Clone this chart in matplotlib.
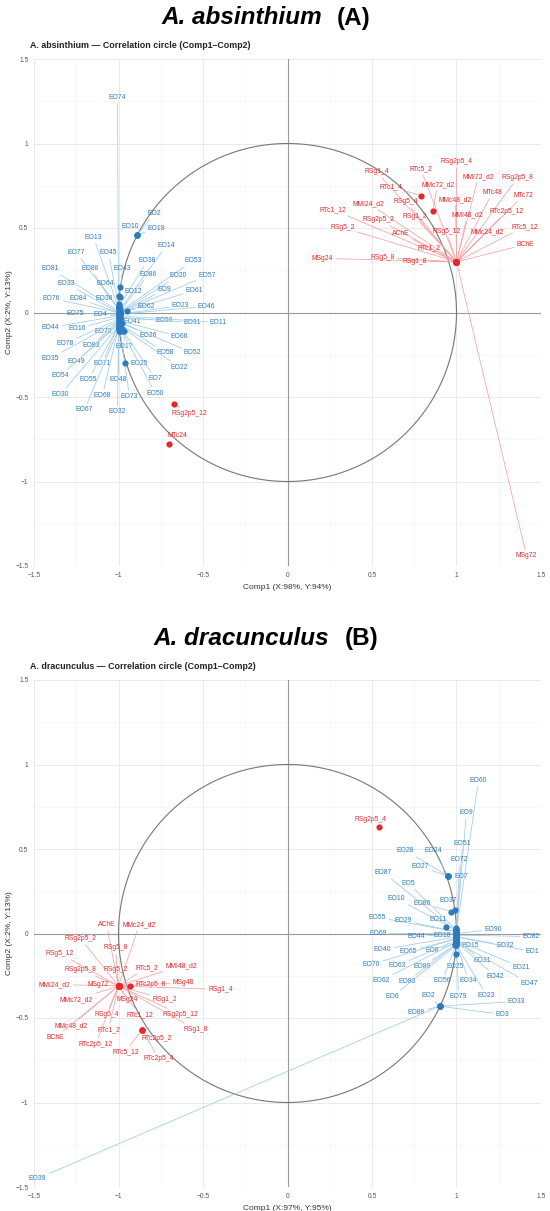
import numpy as np
import matplotlib
matplotlib.use("Agg")
import matplotlib.pyplot as plt

plt.rcParams["font.family"] = ["Liberation Sans", "DejaVu Sans"]

# ---------------- A. absinthium ----------------
abs_eo_names = ["EO74", "EO2", "EO19", "EO10", "EO14", "EO13", "EO77", "EO45", "EO38", "EO53",
                "EO81", "EO88", "EO43", "EO86", "EO20", "EO57", "EO33", "EO64", "EO12", "EO9",
                "EO61", "EO76", "EO84", "EO36", "EO62", "EO23", "EO46", "EO75", "EO4", "EO41",
                "EO59", "EO91", "EO11", "EO44", "EO16", "EO72", "EO26", "EO66", "EO78", "EO83",
                "EO17", "EO58", "EO52", "EO35", "EO49", "EO71", "EO25", "EO22", "EO54", "EO55",
                "EO48", "EO7", "EO30", "EO68", "EO73", "EO50", "EO67", "EO32"]
abs_eo_x = [-1.00, -0.89, -0.89, -0.89, -0.99, -1.00, -1.00, -1.00, -1.00, -1.00,
            -1.00, -1.00, -1.00, -0.99, -0.99, -0.99, -1.00, -0.99, -0.99, -0.99,
            -0.99, -1.00, -1.00, -1.00, -0.95, -0.99, -0.99, -1.00, -1.00, -0.99,
            -0.99, -0.99, -0.99, -1.00, -1.00, -0.99, -0.98, -0.99, -1.00, -1.00,
            -0.97, -0.99, -0.99, -1.00, -1.00, -1.00, -0.96, -0.99, -1.00, -1.00,
            -1.00, -0.98, -1.00, -1.00, -0.99, -0.98, -1.00, -1.00]
abs_eo_y = [0.05, 0.46, 0.46, 0.46, 0.02, 0.03, 0.02, 0.04, 0.03, 0.00,
            0.01, 0.02, 0.03, 0.01, 0.00, 0.00, 0.00, 0.15, 0.09, 0.00,
            0.00, 0.00, 0.00, 0.10, 0.01, -0.01, -0.01, -0.01, -0.02, -0.04,
            -0.03, -0.03, -0.02, -0.02, -0.03, -0.11, -0.06, -0.05, -0.04, -0.05,
            -0.11, -0.07, -0.06, -0.05, -0.06, -0.07, -0.30, -0.08, -0.07, -0.08,
            -0.09, -0.10, -0.08, -0.09, -0.11, -0.11, -0.10, -0.11]

abs_bio_names = ["RSg2p5_4", "RSg1_4", "RTc5_2", "MMI72_d2", "RSg2p5_8", "RTc1_4", "MMc72_d2",
                 "MTc48", "MTc72", "MMc48_d2", "RSg5_4", "MMI24_d2", "RTc1_12", "RSg1_2",
                 "MMI48_d2", "RTc2p5_12", "RSg2p5_2", "RSg5_2", "AChE", "RSg5_12", "MMc24_d2",
                 "RTc5_12", "RTc1_2", "BChE", "MSg24", "RSg5_8", "RSg1_8", "MSg72",
                 "RSg2p5_12", "MTc24"]
abs_bio_x = [1.00, 1.00, 1.00, 1.00, 1.00, 0.79, 0.86,
             1.00, 1.00, 1.00, 1.00, 1.00, 1.00, 1.00,
             1.00, 1.00, 1.00, 1.00, 1.00, 1.00, 1.00,
             1.00, 1.00, 1.00, 1.00, 1.00, 1.00, 1.00,
             -0.67, -0.70]
abs_bio_y = [0.30, 0.30, 0.30, 0.30, 0.30, 0.69, 0.60,
             0.30, 0.30, 0.30, 0.30, 0.30, 0.30, 0.30,
             0.30, 0.30, 0.30, 0.30, 0.30, 0.30, 0.30,
             0.30, 0.30, 0.30, 0.30, 0.30, 0.30, 0.30,
             -0.54, -0.78]

# label placement (repelled text positions)
abs_eo_lab = [(-1.006, 1.272), (-0.787, 0.586), (-0.775, 0.497), (-0.929, 0.509), (-0.716, 0.396),
              (-1.148, 0.444), (-1.249, 0.355), (-1.059, 0.355), (-0.828, 0.308), (-0.556, 0.308),
              (-1.402, 0.260), (-1.166, 0.260), (-0.976, 0.260), (-0.822, 0.225), (-0.645, 0.219),
              (-0.473, 0.219), (-1.308, 0.172), (-1.077, 0.172), (-0.911, 0.124), (-0.728, 0.136),
              (-0.550, 0.130), (-1.396, 0.083), (-1.237, 0.083), (-1.083, 0.083), (-0.834, 0.036),
              (-0.633, 0.041), (-0.479, 0.036), (-1.254, -0.006), (-1.107, -0.012), (-0.917, -0.053),
              (-0.728, -0.047), (-0.562, -0.059), (-0.408, -0.059), (-1.402, -0.089), (-1.243, -0.095),
              (-1.089, -0.112), (-0.822, -0.136), (-0.639, -0.142), (-1.314, -0.183), (-1.160, -0.195),
              (-0.964, -0.201), (-0.722, -0.237), (-0.562, -0.237), (-1.402, -0.272), (-1.249, -0.290),
              (-1.095, -0.302), (-0.876, -0.302), (-0.639, -0.325), (-1.343, -0.373), (-1.178, -0.396),
              (-1.000, -0.396), (-0.781, -0.391), (-1.343, -0.485), (-1.095, -0.491), (-0.935, -0.497),
              (-0.781, -0.479), (-1.201, -0.574), (-1.006, -0.586)]
abs_bio_lab = [(1.000, 0.893), (0.527, 0.834), (0.787, 0.852), (1.130, 0.805), (1.361, 0.799),
               (0.615, 0.746), (0.888, 0.757), (1.213, 0.710), (1.396, 0.692), (0.994, 0.669),
               (0.698, 0.657), (0.479, 0.645), (0.266, 0.609), (0.751, 0.568), (1.065, 0.580),
               (1.296, 0.598), (0.538, 0.550), (0.325, 0.503), (0.669, 0.467), (0.941, 0.479),
               (1.183, 0.479), (1.402, 0.509), (0.834, 0.385), (1.408, 0.402), (0.207, 0.320),
               (0.562, 0.325), (0.751, 0.302), (1.414, -1.438), (-0.580, -0.598), (-0.651, -0.728)]

# ---------------- A. dracunculus ----------------
dra_eo_names = ["EO60", "EO9", "EO51", "EO28", "EO24", "EO72", "EO27", "EO87", "EO7", "EO5",
                "EO10", "EO86", "EO37", "EO55", "EO29", "EO11", "EO69", "EO44", "EO18", "EO90",
                "EO82", "EO15", "EO32", "EO1", "EO40", "EO65", "EO8", "EO31", "EO21", "EO70",
                "EO63", "EO89", "EO25", "EO42", "EO47", "EO62", "EO80", "EO56", "EO34", "EO6",
                "EO2", "EO79", "EO23", "EO33", "EO88", "EO3", "EO39"]
dra_eo_x = [1.00, 1.00, 1.00, 0.95, 0.95, 1.00, 0.95, 1.00, 0.95, 1.00,
            1.00, 0.97, 0.99, 1.00, 1.00, 0.94, 1.00, 1.00, 1.00, 1.00,
            1.00, 1.00, 1.00, 1.00, 1.00, 1.00, 0.99, 1.00, 1.00, 1.00,
            1.00, 0.99, 1.00, 1.00, 1.00, 1.00, 1.00, 1.00, 1.00, 1.00,
            0.90, 1.00, 1.00, 0.90, 0.90, 0.90, 0.90]
dra_eo_y = [0.02, 0.02, 0.03, 0.34, 0.34, 0.02, 0.34, 0.01, 0.34, 0.02,
            0.02, 0.13, 0.14, 0.01, 0.01, 0.04, 0.00, 0.00, -0.01, 0.00,
            -0.01, -0.03, -0.02, -0.02, -0.02, -0.03, -0.06, -0.04, -0.04, -0.03,
            -0.04, -0.07, -0.12, -0.05, -0.05, -0.05, -0.06, -0.06, -0.06, -0.07,
            -0.43, -0.07, -0.07, -0.43, -0.43, -0.43, -0.43]

dra_bio_names = ["AChE", "MMc24_d2", "RSg2p5_2", "RSg5_8", "RSg5_12", "RTc5_2", "MMI48_d2",
                 "RSg2p5_8", "RSg5_2", "MSg48", "MMI24_d2", "MSg72", "RTc2p5_8", "RSg1_4",
                 "MMc72_d2", "MSg24", "RSg1_2", "RSg5_4", "RTc1_12", "RSg2p5_12", "MMc48_d2",
                 "RTc1_2", "RSg1_8", "BChE", "RTc2p5_2", "RTc2p5_12", "RTc5_12", "RTc2p5_4",
                 "RSg2p5_4"]
dra_bio_x = [-1.00, -1.00, -1.00, -1.00, -1.00, -1.00, -1.00,
             -1.00, -1.00, -1.00, -1.00, -1.00, -0.93, -1.00,
             -1.00, -1.00, -1.00, -1.00, -1.00, -1.00, -1.00,
             -1.00, -1.00, -1.00, -0.86, -1.00, -0.86, -0.86,
             0.54]
dra_bio_y = [-0.31, -0.31, -0.31, -0.31, -0.31, -0.31, -0.31,
             -0.31, -0.31, -0.31, -0.31, -0.31, -0.31, -0.31,
             -0.31, -0.31, -0.31, -0.31, -0.31, -0.31, -0.31,
             -0.31, -0.31, -0.31, -0.57, -0.31, -0.57, -0.57,
             0.63]

dra_eo_lab = [(1.130, 0.905), (1.059, 0.716), (1.036, 0.533), (0.698, 0.491), (0.864, 0.491),
              (1.018, 0.438), (0.787, 0.396), (0.568, 0.361), (1.030, 0.337), (0.716, 0.296),
              (0.645, 0.207), (0.799, 0.178), (0.953, 0.195), (0.533, 0.095), (0.686, 0.077),
              (0.893, 0.083), (0.538, 0.000), (0.763, -0.018), (0.917, -0.012), (1.219, 0.024),
              (1.444, -0.018), (1.083, -0.071), (1.290, -0.071), (1.450, -0.107), (0.562, -0.095),
              (0.716, -0.107), (0.858, -0.101), (1.154, -0.160), (1.385, -0.201), (0.497, -0.183),
              (0.651, -0.189), (0.799, -0.195), (0.994, -0.195), (1.231, -0.254), (1.432, -0.296),
              (0.556, -0.278), (0.710, -0.284), (0.917, -0.278), (1.071, -0.278), (0.621, -0.373),
              (0.834, -0.367), (1.012, -0.373), (1.178, -0.367), (1.355, -0.402), (0.763, -0.467),
              (1.272, -0.479), (-1.479, -1.450)]
dra_bio_lab = [(-1.071, 0.053), (-0.876, 0.053), (-1.225, -0.030), (-1.018, -0.083), (-1.349, -0.118),
               (-0.834, -0.201), (-0.627, -0.189), (-1.225, -0.213), (-1.018, -0.213), (-0.615, -0.290),
               (-1.379, -0.302), (-1.118, -0.302), (-0.811, -0.302), (-0.396, -0.331), (-1.249, -0.391),
               (-0.947, -0.391), (-0.728, -0.391), (-1.071, -0.479), (-0.876, -0.479), (-0.633, -0.479),
               (-1.278, -0.544), (-1.059, -0.568), (-0.544, -0.568), (-1.373, -0.615), (-0.775, -0.621),
               (-1.136, -0.657), (-0.959, -0.698), (-0.763, -0.740), (0.491, 0.675)]

BLUE = "#2b7bbf"
BLUE_SEG = "#9fcbe8"
RED = "#e8272a"
RED_SEG = "#f5a3a3"
W, H = 550, 1211


def draw_panel(ax, eo, bio, subtitle, xlabel):
    ax.set_xlim(-1.5, 1.5)
    ax.set_ylim(-1.5, 1.5)
    ax.set_aspect("equal")
    for s in ax.spines.values():
        s.set_visible(False)
    ticks = [-1.5, -1, -0.5, 0, 0.5, 1, 1.5]
    ax.set_xticks(ticks)
    ax.set_yticks(ticks)
    ax.set_xticklabels(["\u22121.5", "\u22121", "\u22120.5", "0", "0.5", "1", "1.5"])
    ax.set_yticklabels(["\u22121.5", "\u22121", "\u22120.5", "0", "0.5", "1", "1.5"])
    ax.set_xticks(np.arange(-1.25, 1.5, 0.5), minor=True)
    ax.set_yticks(np.arange(-1.25, 1.5, 0.5), minor=True)
    ax.tick_params(which="both", length=0, labelsize=4.8, labelcolor="#555555", pad=4)
    ax.grid(which="major", color="#e6e6e6", lw=0.6)
    ax.grid(which="minor", color="#f2f2f2", lw=0.4)
    ax.set_axisbelow(True)
    ax.axhline(0, color="#9a9a9a", lw=0.8, zorder=1)
    ax.axvline(0, color="#9a9a9a", lw=0.8, zorder=1)
    t = np.linspace(0, 2 * np.pi, 400)
    ax.plot(np.cos(t), np.sin(t), color="#777777", lw=0.8, zorder=2)

    for (names, xs, ys, labs), col, seg in [(eo, BLUE, BLUE_SEG), (bio, RED, RED_SEG)]:
        for n, x, y, (lx, ly) in zip(names, xs, ys, labs):
            ax.annotate(n, xy=(x, y), xytext=(lx, ly), ha="center", va="center",
                        fontsize=4.9, color=col, zorder=4,
                        arrowprops=dict(arrowstyle="-", color=seg, lw=0.55,
                                        shrinkA=0, shrinkB=0))
        ax.scatter(xs, ys, s=20, color=col, zorder=5, linewidths=0)

    ax.set_xlabel(xlabel, fontsize=6, color="#333333", labelpad=4)
    ax.set_ylabel("Comp2 (X:2%, Y:13%)", fontsize=6, color="#333333", labelpad=2)
    ax.text(-0.008, 1.026, subtitle, transform=ax.transAxes, fontsize=6.4,
            fontweight="bold", color="#222222", ha="left", va="center")


fig = plt.figure(figsize=(W / 100, H / 100), dpi=100)

ax1 = fig.add_axes([34 / W, 1 - 566 / H, 507 / W, 507 / H])
draw_panel(ax1, (abs_eo_names, abs_eo_x, abs_eo_y, abs_eo_lab),
           (abs_bio_names, abs_bio_x, abs_bio_y, abs_bio_lab),
           "A. absinthium \u2014 Correlation circle (Comp1\u2013Comp2)", "Comp1 (X:98%, Y:94%)")

ax2 = fig.add_axes([34 / W, 1 - 1187 / H, 507 / W, 507 / H])
draw_panel(ax2, (dra_eo_names, dra_eo_x, dra_eo_y, dra_eo_lab),
           (dra_bio_names, dra_bio_x, dra_bio_y, dra_bio_lab),
           "A. dracunculus \u2014 Correlation circle (Comp1\u2013Comp2)", "Comp1 (X:97%, Y:95%)")

# big panel titles
fig.text(322 / W, 1 - 18 / H, "A. absinthium", fontsize=17.5, fontweight="bold",
         fontstyle="italic", ha="right", va="center")
fig.text(337 / W, 1 - 18 / H, "(A)", fontsize=17.5, fontweight="bold", ha="left", va="center")
fig.text(329 / W, 1 - 639 / H, "A. dracunculus", fontsize=17.5, fontweight="bold",
         fontstyle="italic", ha="right", va="center")
fig.text(345 / W, 1 - 639 / H, "(B)", fontsize=17.5, fontweight="bold", ha="left", va="center")

fig.savefig("out.png", dpi=100, facecolor="white")
